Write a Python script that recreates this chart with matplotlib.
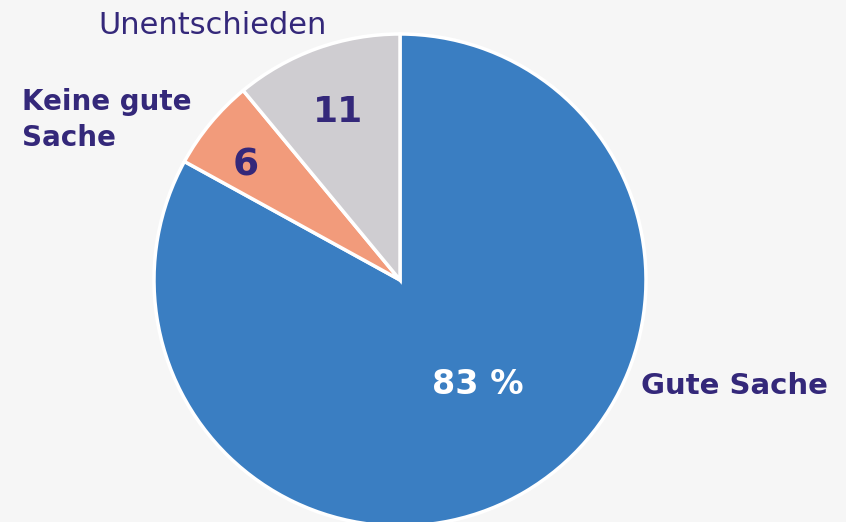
import matplotlib.pyplot as plt

# Data
labels = ['Gute Sache', 'Keine gute Sache', 'Unentschieden']
values = [83, 6, 11]
inner_labels = ['83 %', '6', '11']
colors = ['#3a7ec2', '#f29b7b', '#cfcdd1']

bg = '#f6f6f6'
purple = '#34287a'

plt.rcParams['font.family'] = ['DejaVu Sans']

fig = plt.figure(figsize=(8.46, 5.22), dpi=100, facecolor=bg)
ax = fig.add_axes([0, 0, 1, 1])
ax.set_facecolor(bg)

# axes in pixel units, y up
wedges, _ = ax.pie(values, colors=colors, startangle=90, counterclock=False,
                   center=(400, 242), radius=246,
                   wedgeprops=dict(edgecolor='white', linewidth=2.5))
ax.set_xlim(0, 846)
ax.set_ylim(0, 522)
ax.set_aspect('equal')
ax.axis('off')

# values inside slices
ax.text(478, 138, inner_labels[0], color='white', fontsize=24, fontweight='bold',
        ha='center', va='center')
ax.text(246, 357, inner_labels[1], color=purple, fontsize=27, fontweight='bold',
        ha='center', va='center')
ax.text(338, 410, inner_labels[2], color=purple, fontsize=26, fontweight='bold',
        ha='center', va='center')

# category labels
ax.text(734, 136, labels[0], color=purple, fontsize=21, fontweight='bold',
        ha='center', va='center')
ax.text(22, 402, 'Keine gute\nSache', color=purple, fontsize=20, fontweight='bold',
        ha='left', va='center', linespacing=1.35)
ax.text(213, 497, labels[2], color=purple, fontsize=22, fontweight='normal',
        ha='center', va='center')

fig.savefig('out.png', dpi=100, facecolor=bg)
